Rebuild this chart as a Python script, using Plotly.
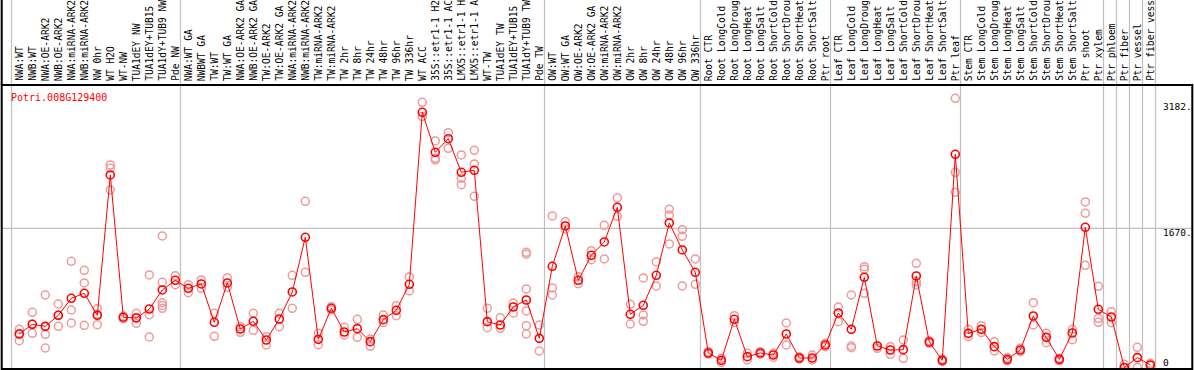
import plotly.graph_objects as go

categories = [
    "NWA:WT", "NWB:WT", "NWA:OE-ARK2", "NWB:OE-ARK2", "NWA:miRNA-ARK2", "NWB:miRNA-ARK2",
    "NW 0hr", "WT H2O", "WT-NW", "TUA1dEY NW", "TUA1dEY+TUB15", "TUA1dY+TUB9 NW", "Pde NW",
    "NWA:WT GA", "NWBWT GA", "TW:WT", "TW:WT GA", "NWA:OE-ARK2 GA", "NWB:OE-ARK2 GA",
    "TW:OE-ARK2", "TW:OE-ARK2 GA", "NWA:miRNA-ARK2", "NWB:miRNA-ARK2", "TW:miRNA-ARK2",
    "TW:miRNA-ARK2", "TW 2hr", "TW 8hr", "TW 24hr", "TW 48hr", "TW 96hr", "TW 336hr",
    "WT ACC", "35S::etr1-1 H2", "35S::etr1-1 AC", "LMX5::etr1-1 H", "LMX5::etr1-1 A",
    "WT-TW", "TUA1dEY TW", "TUA1dEY+TUB15", "TUA1dY+TUB9 TW", "Pde TW",
    "OW:WT", "OW:WT GA", "OW:OE-ARK2", "OW:OE-ARK2 GA", "OW:miRNA-ARK2", "OW:miRNA-ARK2",
    "OW 2hr", "OW 8hr", "OW 24hr", "OW 48hr", "OW 96hr", "OW 336hr",
    "Root CTR", "Root LongCold", "Root LongDroug", "Root LongHeat", "Root LongSalt",
    "Root ShortCold", "Root ShortDrou", "Root ShortHeat", "Root ShortSalt", "Ptr root",
    "Leaf CTR", "Leaf LongCold", "Leaf LongDroug", "Leaf LongHeat", "Leaf LongSalt",
    "Leaf ShortCold", "Leaf ShortDrou", "Leaf ShortHeat", "Leaf ShortSalt", "Ptr leaf",
    "Stem CTR", "Stem LongCold", "Stem LongDroug", "Stem LongHeat", "Stem LongSalt",
    "Stem ShortCold", "Stem ShortDrou", "Stem ShortHeat", "Stem ShortSalt", "Ptr shoot",
    "Ptr xylem", "Ptr phloem", "Ptr fiber", "Ptr vessel", "Ptr fiber vess",
]

means = [
    402, 518, 494, 626, 830, 890, 626, 2310, 602, 594,
    702, 930, 1046, 950, 1002, 542, 1014, 462, 554, 330,
    582, 906, 1562, 338, 710, 426, 466, 310, 574, 686,
    998, 3062, 2582, 2745, 2342, 2366, 550, 510, 726, 810,
    350, 1214, 1698, 1046, 1346, 1506, 1922, 638, 746, 1106,
    1734, 1410, 1142, 174, 86, 578, 130, 174, 150, 402,
    114, 114, 270, 654, 458, 1082, 258, 210, 214, 1098,
    306, 86, 2558, 410, 458, 250, 98, 210, 618, 362,
    98, 414, 1682, 698, 606, 0, 118, 30,
]

replicates = [
    [458, 402, 322], [662, 518, 410], [870, 398, 234], [762, 626, 494],
    [1274, 690, 534], [1166, 1014, 506], [706, 640, 514], [2430, 2390, 2130],
    [586, 618], [650, 530, 600], [1110, 634, 366], [1578, 1022, 777, 745, 710],
    [1102, 994], [994, 898], [1050, 950], [650, 374], [1074, 962], [490, 422],
    [650, 446], [370, 270], [650, 490], [1106, 710], [1994, 1142], [410, 274],
    [730, 690], [482, 390], [578, 362], [342, 254], [630, 540], [742, 622],
    [1086, 918], [3182, 3010], [2718, 2510, 2490], [2817, 2630],
    [2550, 2270, 2194], [2606, 2442, 2054], [710, 478], [598, 470], [774, 654],
    [1382, 1360, 942, 678, 502, 402], [510, 198], [1818, 954, 870], [1750, 1660],
    [1090, 1006], [1402, 1294], [1706, 1302], [2034, 1814], [758, 522],
    [1074, 630, 554], [1266, 978], [1898, 1830, 1482], [1654, 1574, 978],
    [1302, 998], [190, 160], [110, 60], [622, 540], [170, 90], [190, 160],
    [170, 120], [534, 270], [130, 100], [150, 90], [290, 250], [726, 550],
    [870, 258, 238], [1210, 1178, 890], [230], [250, 158], [330, 110],
    [1250, 1030, 990], [320, 290], [100, 70], [3230, 2342, 2102], [458, 370],
    [502, 420], [310, 200], [120, 80], [230, 190], [778, 510], [410, 298],
    [110, 80], [458, 334], [1986, 1850, 1226], [974, 590, 542], [670, 538],
    [38, 0], [242, 0], [50, 20],
]

group_separators = [-0.6, 12.4, 40.4, 52.4, 62.4, 72.4, 83.4, 84.4, 85.4, 86.4, 87.4]
y_ticks = [0, 1670, 3182]
y_tick_text = ["0", "1670.", "3182."]
gene_id = "Potri.008G129400"

W, H = 1194, 370
PX = 13.0               # pixels per category
X0 = 19.3               # pixel of first category
Y_TOP, Y_BOT = 85, 369  # plot frame in pixels
ZERO_PX, SCALE = 367.5, 0.08335

xr = [-X0 / PX, (W - X0) / PX]
yr = [(ZERO_PX - Y_BOT) / SCALE, (ZERO_PX - Y_TOP) / SCALE]
dom = [1 - Y_BOT / H, 1 - Y_TOP / H]

def py(p):
    return 1 - p / H

fig = go.Figure()

rx, ry = [], []
for i, reps in enumerate(replicates):
    for v in reps:
        rx.append(i)
        ry.append(v)

fig.add_trace(go.Scatter(
    x=rx, y=ry, mode="markers",
    marker=dict(symbol="circle-open", size=8, color="#ef9a9a", line=dict(width=1.5, color="#ef9a9a")),
    hoverinfo="skip", cliponaxis=True,
))
fig.add_trace(go.Scatter(
    x=list(range(len(means))), y=means, mode="lines+markers",
    line=dict(color="#ff0000", width=1),
    marker=dict(symbol="circle-open", size=8, color="#ff0000", line=dict(width=1.6, color="#ff0000")),
    cliponaxis=True,
))

shapes = []
for s in group_separators:
    shapes.append(dict(type="line", xref="x", yref="paper", x0=s, x1=s, y0=py(Y_BOT), y1=1,
                       line=dict(color="#c0c0c0", width=1.2), layer="below"))
shapes.append(dict(type="line", xref="paper", yref="y", x0=2 / W, x1=1192 / W, y0=1670, y1=1670,
                   line=dict(color="#c0c0c0", width=1.2), layer="below"))
# frame
shapes.append(dict(type="rect", xref="paper", yref="paper", x0=1.7 / W, x1=1192.3 / W,
                   y0=py(Y_BOT), y1=py(Y_TOP), line=dict(color="black", width=2)))
shapes.append(dict(type="line", xref="paper", yref="paper", x0=1.7 / W, x1=1.7 / W,
                   y0=py(Y_TOP), y1=1, line=dict(color="black", width=2)))

annotations = []
for i, c in enumerate(categories):
    annotations.append(dict(
        x=i, xref="x", y=py(83), yref="paper", text=c, textangle=-90,
        xanchor="center", yanchor="bottom", showarrow=False,
        font=dict(family="DejaVu Sans Mono", size=9.6, color="black"),
    ))
annotations.append(dict(x=9 / W, xref="paper", y=py(97), yref="paper", text=gene_id,
                        xanchor="left", yanchor="middle", showarrow=False,
                        font=dict(family="DejaVu Sans Mono", size=10, color="red")))
shifts = [5.5, -4.4, -4.4]
for v, t, sh in zip(y_ticks, y_tick_text, shifts):
    annotations.append(dict(x=1161 / W, xref="paper", y=v, yref="y", text=t, yshift=sh,
                            xanchor="left", yanchor="middle", showarrow=False,
                            font=dict(family="DejaVu Sans Mono", size=9.5, color="black")))

fig.update_layout(
    width=W, height=H, margin=dict(l=0, r=0, t=0, b=0),
    paper_bgcolor="white", plot_bgcolor="white", showlegend=False,
    xaxis=dict(range=xr, visible=False, fixedrange=True),
    yaxis=dict(range=yr, domain=dom, visible=False, fixedrange=True),
    shapes=shapes, annotations=annotations,
)

fig.write_html("out.html", config={"displayModeBar": False},
               post_script="document.body.style.margin='0';document.body.style.overflow='hidden';")
